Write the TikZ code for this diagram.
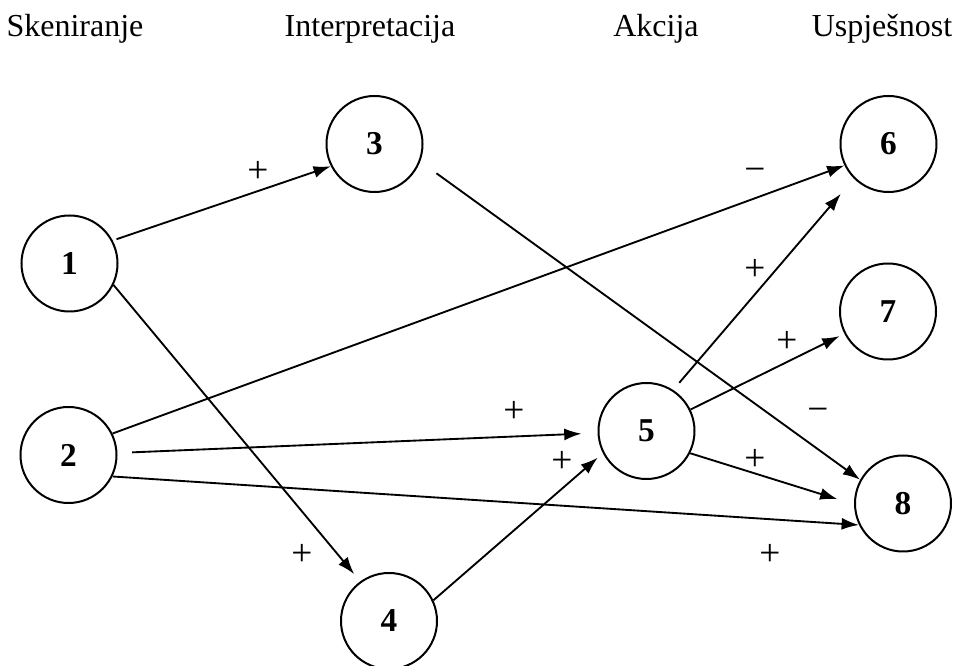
\documentclass[tikz,border=0pt]{standalone}
\usepackage{fontspec}
\setmainfont{Liberation Serif}
\usetikzlibrary{arrows.meta}
\begin{document}
\begin{tikzpicture}[x=0.75pt,y=-0.75pt,
  state/.style={circle,draw,line width=1.5pt,minimum size=72pt,inner sep=0pt,font=\fontsize{25}{25}\selectfont\bfseries},
  arr/.style={line width=1.4pt,-{Latex[length=13pt,width=9pt]}},
  hdr/.style={font=\fontsize{24}{24}\selectfont,anchor=base},
  sgn/.style={font=\fontsize{28}{28}\selectfont}]
\useasboundingbox (0,0) rectangle (958,666);
% headers
\node[hdr] (h1) at (75,37) {Skeniranje};
\node[hdr] (h2) at (370,37) {Interpretacija};
\node[hdr] (h3) at (656,37) {Akcija};
\node[hdr] (h4) at (882,37) {Uspješnost};
% nodes
\node[state] (n1) at (69.5,263.5) {1};
\node[state] (n2) at (68.5,455) {2};
\node[state] (n3) at (374.5,144) {3};
\node[state] (n4) at (389,621) {4};
\node[state] (n5) at (646.5,431) {5};
\node[state] (n6) at (888.5,144) {6};
\node[state] (n7) at (888,311.5) {7};
\node[state] (n8) at (903,503.5) {8};
% edges
\draw[arr,shorten <=3pt] (n1.28) -- (n3.207);
\draw[arr,shorten >=7pt] (n1.-26) -- (n4.126);
\draw[arr] (n2.26) -- (n6.206);
\draw[arr,shorten <=11pt,shorten >=12pt] (n2) -- (n5);
\draw[arr] (n2.-26) -- (n8.206);
\draw[arr,shorten <=15pt] (n3.-21) -- (n8.151);
\draw[arr,shorten >=5pt] (n4.25) -- (n5.207);
\draw[arr,shorten <=7pt,shorten >=15pt] (n5.57) -- (n6.225);
\draw[arr,shorten >=4pt] (n5.26) -- (n7.207);
\draw[arr,shorten >=13pt] (n5.-27) -- (n8.181);
% signs
\node[sgn] (s13) at (258,172) {+};
\node[sgn] (s14) at (302,555) {+};
\node[sgn] (s26) at (755,175) {−};
\node[sgn] (s25) at (514,412) {+};
\node[sgn] (s28) at (770,555) {+};
\node[sgn] (s38) at (818,415) {−};
\node[sgn] (s45) at (562,462) {+};
\node[sgn] (s56) at (755,270) {+};
\node[sgn] (s57) at (787,342) {+};
\node[sgn] (s58) at (755,460) {+};
\end{tikzpicture}
\end{document}
